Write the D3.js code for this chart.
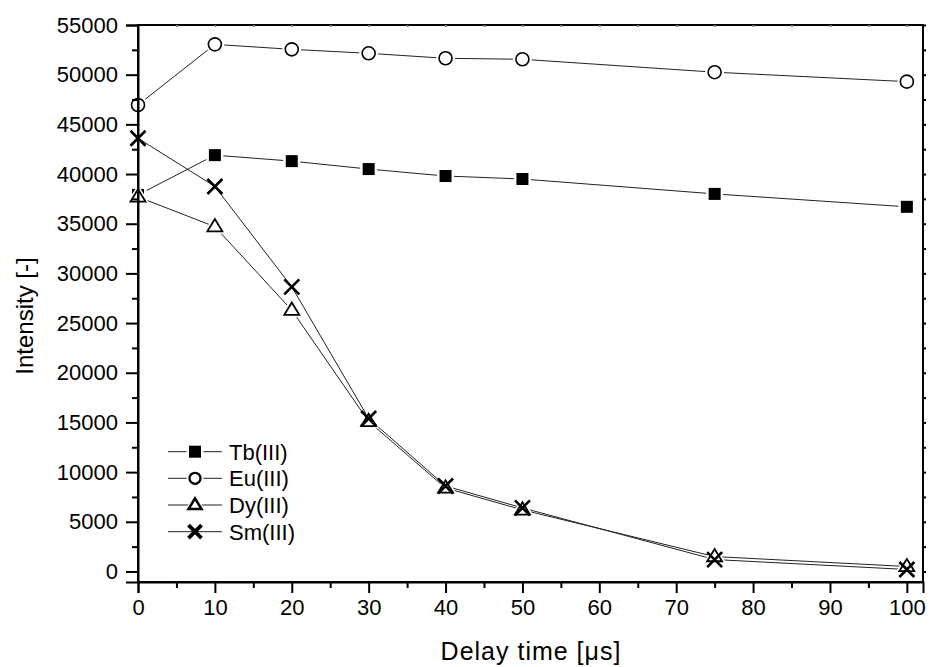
<!DOCTYPE html>
<html>
<head>
<meta charset="utf-8">
<script src="https://cdn.jsdelivr.net/npm/d3@7"></script>
<style>
  html, body { margin: 0; padding: 0; background: #fff; }
  svg { display: block; font-family: "Liberation Sans", Arial, sans-serif; }
</style>
</head>
<body>
<svg id="chart" width="930" height="667"></svg>
<script>
// Delay times (µs) and luminescence intensities for each lanthanide ion
const delayTimes = [0, 10, 20, 30, 40, 50, 75, 100];
const tbValues = [37900, 41900, 41300, 40500, 39800, 39500, 38000, 36700];
const euValues = [46950, 53050, 52550, 52150, 51650, 51550, 50250, 49300];
const dyValues = [37700, 34700, 26300, 15100, 8400, 6200, 1500, 500];
const smValues = [43600, 38750, 28650, 15400, 8600, 6400, 1200, 200];
const seriesNames = ["Tb(III)", "Eu(III)", "Dy(III)", "Sm(III)"];
const seriesSymbols = ["square", "circle", "triangle", "cross"];
const xTickValues = [0, 10, 20, 30, 40, 50, 60, 70, 80, 90, 100];
const yTickValues = [0, 5000, 10000, 15000, 20000, 25000, 30000, 35000, 40000, 45000, 50000, 55000];

const series = [tbValues, euValues, dyValues, smValues].map((vals, i) => ({
  name: seriesNames[i],
  symbol: seriesSymbols[i],
  points: delayTimes.map((t, j) => ({ t, v: vals[j] }))
}));

const svg = d3.select("#chart");
const plotLeft = 138, plotRight = 923, plotTop = 25, plotBottom = 582;

const x = d3.scaleLinear().domain([0, 102.1]).range([plotLeft, plotRight]);
const y = d3.scaleLinear().domain([-1060, 55000]).range([plotBottom, plotTop]);

// symbol drawing helper (centered at 0,0); w scales the outline weight
function drawSymbol(g, type, s, halo, w) {
  if (type === "square") {
    g.append("rect").attr("x", -s / 2).attr("y", -s / 2).attr("width", s).attr("height", s)
      .attr("fill", "#000").attr("stroke", halo ? "#fff" : "none").attr("stroke-width", halo ? 5 : 0)
      .attr("paint-order", "stroke");
  } else if (type === "circle") {
    if (halo) g.append("circle").attr("r", s / 2).attr("fill", "#fff")
      .attr("stroke", "#fff").attr("stroke-width", 6);
    g.append("circle").attr("r", s / 2).attr("fill", "#fff")
      .attr("stroke", "#000").attr("stroke-width", 1.6 * w);
  } else if (type === "triangle") {
    const h = s * 0.82;
    const pts = [[0, -h * 0.62], [s / 2, h * 0.38], [-s / 2, h * 0.38]];
    if (halo) g.append("polygon").attr("points", pts.join(" ")).attr("fill", "#fff")
      .attr("stroke", "#fff").attr("stroke-width", 5).attr("stroke-linejoin", "round");
    g.append("polygon").attr("points", pts.join(" ")).attr("fill", "#fff")
      .attr("stroke", "#000").attr("stroke-width", 1.8 * w);
  } else if (type === "cross") {
    const a = s / 2;
    g.append("path").attr("d", `M${-a},${-a}L${a},${a}M${-a},${a}L${a},${-a}`)
      .attr("stroke", "#000").attr("stroke-width", 2.6 * w).attr("fill", "none");
  }
}
const symbolSize = { square: 12, circle: 13, triangle: 15, cross: 15 };
const legendSize = { square: 12, circle: 11, triangle: 13, cross: 13 };

// data lines
const line = d3.line().x(d => x(d.t)).y(d => y(d.v));
series.forEach(s => {
  svg.append("path").datum(s.points).attr("d", line)
    .attr("fill", "none").attr("stroke", "#222").attr("stroke-width", 1);
});

// markers
series.forEach(s => {
  s.points.forEach(p => {
    const g = svg.append("g").attr("transform", `translate(${x(p.t)},${y(p.v)})`);
    drawSymbol(g, s.symbol, symbolSize[s.symbol], s.symbol !== "cross", 1);
  });
});

// frame
svg.append("rect").attr("x", plotLeft).attr("y", plotTop)
  .attr("width", plotRight - plotLeft).attr("height", plotBottom - plotTop)
  .attr("fill", "none").attr("stroke", "#000").attr("stroke-width", 2);

// bottom axis
svg.append("g").attr("transform", `translate(0,${plotBottom})`)
  .call(d3.axisBottom(x).tickValues(xTickValues).tickSize(11).tickPadding(6).tickFormat(d3.format("d")));
svg.append("g").attr("transform", `translate(0,${plotBottom})`)
  .call(d3.axisBottom(x).tickValues(d3.range(5, 101, 10)).tickSize(6).tickFormat(""))
  .call(g => g.select(".domain").remove());

// left axis
svg.append("g").attr("transform", `translate(${plotLeft},0)`)
  .call(d3.axisLeft(y).tickValues(yTickValues).tickSize(12).tickPadding(8).tickFormat(d3.format("d")));
svg.append("g").attr("transform", `translate(${plotLeft},0)`)
  .call(d3.axisLeft(y).tickValues(d3.range(2500, 55000, 5000)).tickSize(6).tickFormat(""))
  .call(g => g.select(".domain").remove());

// right and top minor ticks
svg.append("g").attr("transform", `translate(${plotRight},0)`)
  .call(d3.axisRight(y).tickValues(d3.range(0, 55001, 2500)).tickSize(3).tickFormat(""))
  .call(g => g.select(".domain").remove());
svg.append("g").attr("transform", `translate(0,${plotTop})`)
  .call(d3.axisBottom(x).tickValues(d3.range(5, 101, 5)).tickSize(2).tickFormat(""))
  .call(g => g.select(".domain").remove())
  .call(g => g.selectAll("line").attr("stroke", "#888"));

svg.selectAll(".tick line").attr("stroke-width", 2);
svg.selectAll(".domain").attr("stroke-width", 2);
svg.selectAll(".tick text").attr("font-size", 22).attr("fill", "#000")
  .attr("font-family", "Liberation Sans, Arial, sans-serif");

// axis titles
svg.append("text").attr("x", 531).attr("y", 660).attr("text-anchor", "middle")
  .attr("font-size", 25).attr("letter-spacing", 1).text("Delay time [μs]");
svg.append("text").attr("transform", "translate(33,316) rotate(-90)").attr("text-anchor", "middle")
  .attr("font-size", 24).text("Intensity [-]");

// legend
const legendY = [451.7, 478.3, 505, 531.7];
series.forEach((s, i) => {
  const g = svg.append("g").attr("transform", `translate(0,${legendY[i]})`);
  g.append("line").attr("x1", 168).attr("x2", 222).attr("y1", 0).attr("y2", 0)
    .attr("stroke", "#222").attr("stroke-width", 1);
  const m = g.append("g").attr("transform", "translate(195,0)");
  drawSymbol(m, s.symbol, legendSize[s.symbol], true, 1.45);
  g.append("text").attr("x", 229).attr("y", 0).attr("dy", "0.36em")
    .attr("font-size", 22).text(s.name);
});
</script>
</body>
</html>
